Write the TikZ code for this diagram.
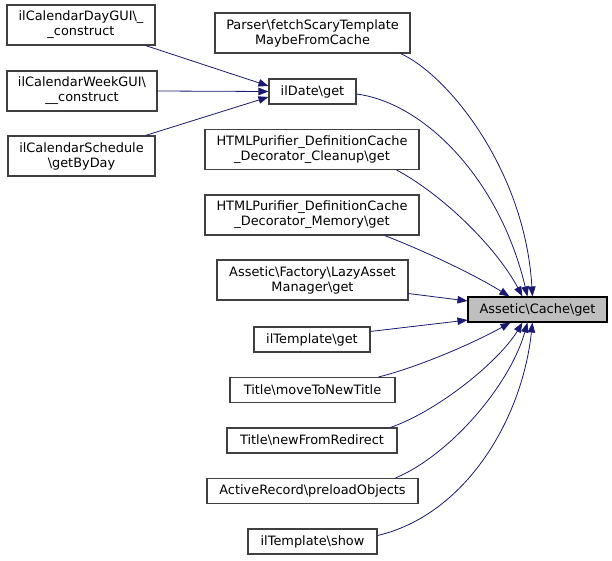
\documentclass[tikz,border=0pt]{standalone}
\usepackage{fontspec}
\setmainfont{DejaVu Sans}
\usetikzlibrary{arrows.meta}
\definecolor{edgeblue}{HTML}{191970}
\definecolor{boxline}{HTML}{404040}
\definecolor{targetfill}{HTML}{BFBFBF}
\tikzset{
  fn/.style={draw=boxline, line width=1.1pt, fill=white, inner sep=0pt, align=center,
    font=\fontsize{12.9}{15}\selectfont},
  target/.style={fn, draw=black, fill=targetfill},
  call/.style={draw=edgeblue, line width=0.8pt, -{Triangle[length=10pt,width=7.5pt]}},
}
\begin{document}
\begin{tikzpicture}[x=1pt,y=-1pt]
\useasboundingbox (0,0) rectangle (612,561);
% left column
\node[fn, minimum width=148pt, minimum height=40pt] (day) at (81,25) {ilCalendarDayGUI\textbackslash\_\\\_construct};
\node[fn, minimum width=150pt, minimum height=40pt] (week) at (82,91) {ilCalendarWeekGUI\textbackslash\\\_\_construct};
\node[fn, minimum width=147pt, minimum height=40pt] (sched) at (81.5,156) {ilCalendarSchedule\\\textbackslash getByDay};
% middle column
\node[fn, minimum width=195pt, minimum height=40pt] (parser) at (312.5,33) {Parser\textbackslash fetchScaryTemplate\\MaybeFromCache};
\node[fn, minimum width=87pt, minimum height=25pt] (ildate) at (312.5,91.5) {ilDate\textbackslash get};
\node[fn, minimum width=214pt, minimum height=40pt] (cleanup) at (312,149.5) {HTMLPurifier\_DefinitionCache\\\_Decorator\_Cleanup\textbackslash get};
\node[fn, minimum width=214pt, minimum height=40pt] (memory) at (312,215) {HTMLPurifier\_DefinitionCache\\\_Decorator\_Memory\textbackslash get};
\node[fn, minimum width=191pt, minimum height=40pt] (lazy) at (312.5,280) {Assetic\textbackslash Factory\textbackslash LazyAsset\\Manager\textbackslash get};
\node[fn, minimum width=116pt, minimum height=25pt] (tplget) at (312,339.5) {ilTemplate\textbackslash get};
\node[fn, minimum width=165pt, minimum height=25pt] (move) at (312.5,390) {Title\textbackslash moveToNewTitle};
\node[fn, minimum width=170pt, minimum height=25pt] (redirect) at (312,440.5) {Title\textbackslash newFromRedirect};
\node[fn, minimum width=211pt, minimum height=25pt] (active) at (312.5,491) {ActiveRecord\textbackslash preloadObjects};
\node[fn, minimum width=129pt, minimum height=25pt] (show) at (312.5,541.5) {ilTemplate\textbackslash show};
% target
\node[target, minimum width=139pt, minimum height=25pt] (cache) at (537.5,309.5) {Assetic\textbackslash Cache\textbackslash get};
% edges into ilDate
\draw[call] ([xshift=-10pt]day.south east) -- ([yshift=5.5pt]ildate.west);
\draw[call] (week.east) -- (ildate.west);
\draw[call] ([xshift=-10pt]sched.north east) -- ([yshift=-5.5pt]ildate.west);
% edges into cache from above
\draw[call] ([xshift=-10pt]parser.south east) .. controls (448,75) and (525,170) .. ([xshift=65pt]cache.north west);
\draw[call] ([yshift=-2.5pt]ildate.east) .. controls (425,103) and (500,180) .. ([xshift=60pt]cache.north west);
\draw[call] ([xshift=-23pt]cleanup.south east) .. controls (440,193) and (495,245) .. ([xshift=55pt]cache.north west);
\draw[call] ([xshift=-35pt]memory.south east) .. controls (415,247) and (470,272) .. ([xshift=42pt]cache.north west);
\draw[call] ([yshift=7pt]lazy.south east) -- ([yshift=-4.5pt]cache.north west);
% edges into cache from below
\draw[call] ([yshift=-5pt]tplget.north east) -- ([yshift=2.5pt]cache.south west);
\draw[call] ([xshift=-17pt]move.north east) .. controls (415,368) and (470,345) .. ([xshift=43pt]cache.south west);
\draw[call] ([xshift=-7pt]redirect.north east) .. controls (440,410) and (500,360) .. ([xshift=55pt]cache.south west);
\draw[call] ([xshift=-23pt]active.north east) .. controls (450,455) and (510,385) .. ([xshift=60pt]cache.south west);
\draw[call] ([yshift=6pt]show.east) .. controls (465,515) and (522,420) .. ([xshift=65pt]cache.south west);
\end{tikzpicture}
\end{document}
